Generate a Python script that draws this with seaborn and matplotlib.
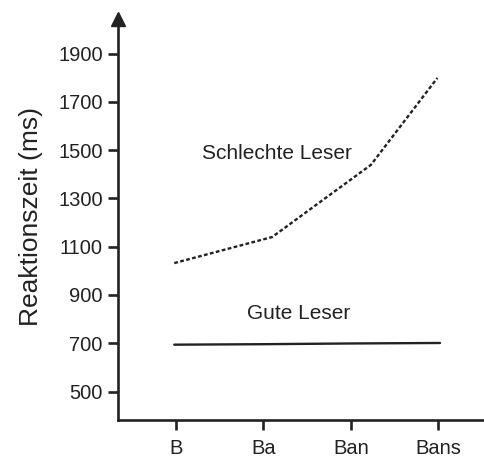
import matplotlib
matplotlib.use("Agg")
import matplotlib.pyplot as plt
import seaborn as sns

# data
conditions = ["B", "Ba", "Ban", "Bans"]
condition_pos = [0, 1, 2, 3]
schlecht_pos = [-0.02, 1.10, 2.23, 2.99]
schlecht_rt = [1032, 1140, 1439, 1799]
gut_pos = [-0.02, 1, 2, 3.02]
gut_rt = [694, 696, 699, 701]
y_ticks = [500, 700, 900, 1100, 1300, 1500, 1700, 1900]

sns.set_style("ticks")
plt.rcParams["font.family"] = ["Liberation Sans", "DejaVu Sans"]
plt.rcParams["xtick.labelsize"] = 14.5
plt.rcParams["ytick.labelsize"] = 14.5

ink = "#222222"

fig = plt.figure(figsize=(4.85, 4.59), dpi=100)
ax = fig.add_axes([0.2433, 0.085, 0.7567, 0.8735])

sns.lineplot(x=schlecht_pos, y=schlecht_rt, ax=ax, color=ink,
             linewidth=1.7, linestyle=(0, (1.6, 1.0)))
sns.lineplot(x=gut_pos, y=gut_rt, ax=ax, color=ink, linewidth=1.7)

ax.text(1.15, 1485, "Schlechte Leser", fontsize=15, color=ink,
        ha="center", va="center")
ax.text(1.4, 822, "Gute Leser", fontsize=15, color=ink,
        ha="center", va="center")

ax.set_xlim(-0.664, 3.535)
ax.set_ylim(382, 2043)
ax.set_xticks(condition_pos)
ax.set_xticklabels(conditions, fontsize=14.5)
ax.set_yticks(y_ticks)
ax.set_yticklabels([str(v) for v in y_ticks], fontsize=14.5)
ax.set_ylabel("Reaktionszeit (ms)", fontsize=19, color=ink)
ax.yaxis.set_label_coords(-0.204, 0.5075)
ax.set_xlabel("")

for side in ["top", "right"]:
    ax.spines[side].set_visible(False)
for side in ["left", "bottom"]:
    ax.spines[side].set_linewidth(1.9)
    ax.spines[side].set_color(ink)
ax.tick_params(axis="both", direction="out", length=7, width=1.9,
               colors=ink)
ax.tick_params(axis="x", pad=7)
ax.tick_params(axis="y", pad=4)

# arrow head on the y axis
ax.plot([0], [1], marker="^", markersize=10, color=ink,
        transform=ax.transAxes, clip_on=False)

fig.savefig("out.png", dpi=100, facecolor="white")
